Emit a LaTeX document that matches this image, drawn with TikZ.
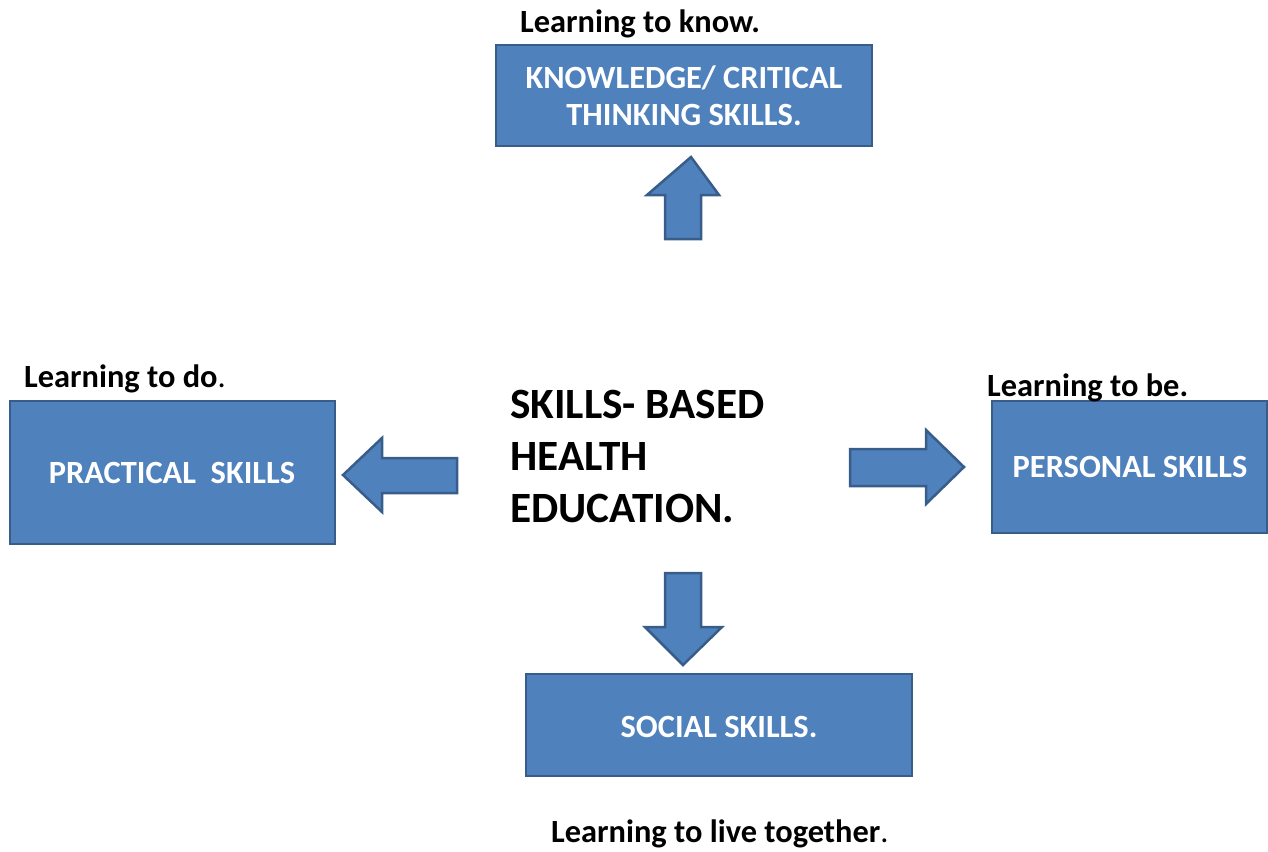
\documentclass[tikz,border=0pt]{standalone}
\usepackage{fontspec}
\setmainfont{Carlito}
\definecolor{boxfill}{HTML}{4F81BD}
\definecolor{boxline}{HTML}{385D8A}
\begin{document}
\begin{tikzpicture}[x=1pt,y=-1pt,
  skillbox/.style={draw=boxline,fill=boxfill,line width=2.5pt},
  blockarrow/.style={draw=boxline,fill=boxfill,line width=2.5pt,line join=miter},
  boxtext/.style={text=white,font=\fontsize{32.4}{37}\selectfont\bfseries,align=center,inner sep=0pt},
  caption/.style={font=\fontsize{32.4}{37}\selectfont\bfseries,anchor=west,inner sep=0pt},
  title/.style={font=\fontsize{43.2}{52}\selectfont\bfseries,align=left,anchor=north west,inner sep=0pt}]
\useasboundingbox (0,0) rectangle (1268,851);
% boxes
\draw[skillbox] (496,45) rectangle (872,146);
\draw[skillbox] (10,401) rectangle (335,544);
\draw[skillbox] (992,401) rectangle (1267,533);
\draw[skillbox] (526,674) rectangle (912,776);
% box texts
\node[boxtext] (know) at (684,96) {KNOWLEDGE/ CRITICAL\\THINKING SKILLS.};
\node[boxtext] (prac) at (172,473) {PRACTICAL\ \ SKILLS};
\node[boxtext] (pers) at (1130,467) {PERSONAL SKILLS};
\node[boxtext] (soc) at (719,727) {SOCIAL SKILLS.};
% captions
\node[caption] (c1) at (520,24) {Learning to know.};
\node[caption] (c2) at (24,379) {Learning to do\textmd{.}};
\node[caption] (c3) at (987,388) {Learning to be.};
\node[caption] (c4) at (551,834) {Learning to live together\textmd{.}};
% centre title
\node[title] (sbhe) at (510,390) {SKILLS- BASED\\HEALTH\\EDUCATION.};
% block arrows
\draw[blockarrow] (691,157) -- (719,195) -- (701,195) -- (701,239) -- (665,239) -- (665,195) -- (647,195) -- cycle;
\draw[blockarrow] (343,475) -- (382,438) -- (382,458) -- (457,458) -- (457,493) -- (382,493) -- (382,512) -- cycle;
\draw[blockarrow] (964,467) -- (926,430) -- (926,449) -- (850,449) -- (850,486) -- (926,486) -- (926,504) -- cycle;
\draw[blockarrow] (683,665) -- (722,627) -- (701,627) -- (701,573) -- (665,573) -- (665,627) -- (645,627) -- cycle;
\end{tikzpicture}
\end{document}
